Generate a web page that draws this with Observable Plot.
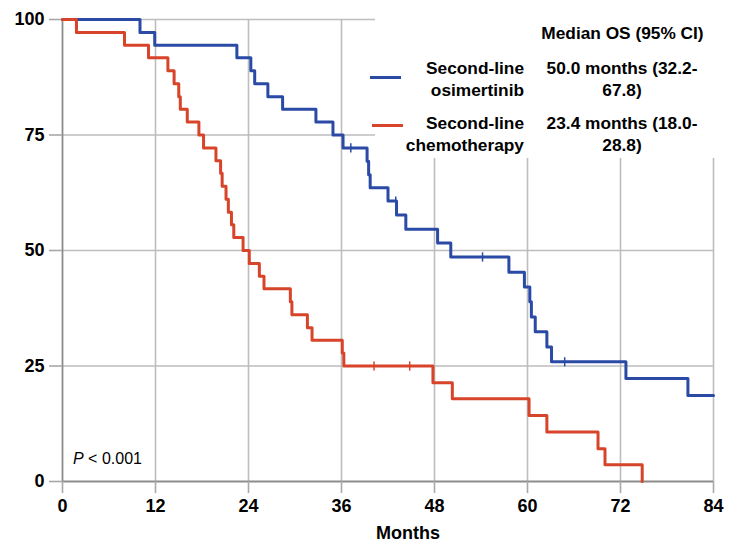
<!DOCTYPE html>
<html>
<head>
<meta charset="utf-8">
<script src="https://cdn.jsdelivr.net/npm/d3@7"></script>
<script src="https://cdn.jsdelivr.net/npm/@observablehq/plot@0.6"></script>
<style>
  html, body { margin: 0; padding: 0; background: #fff; }
  #wrap { position: relative; width: 739px; height: 546px; font-family: "Liberation Sans", Arial, sans-serif; color: #000; }
  #wrap svg { display: block; }
  .abs { position: absolute; white-space: nowrap; }
  #legendBox { position: absolute; left: 375px; top: 0; width: 364px; height: 158px; background: #fff; }
  .lg { position: absolute; font-weight: bold; font-size: 17.3px; line-height: 22px; white-space: nowrap; }
  .swatch { position: absolute; height: 3px; width: 31px; }
</style>
</head>
<body>
<div id="wrap"></div>
<script>
// ---- data ----
const xTicks = [0, 12, 24, 36, 48, 60, 72, 84];
const yTicks = [0, 25, 50, 75, 100];

const osiTimes = [0, 10.0, 11.9, 22.5, 24.3, 24.8, 26.5, 28.4, 32.7, 34.9, 36.2, 39.3, 39.5, 39.7, 42.0, 43.1, 44.3, 48.4, 50.1, 57.6, 59.6, 60.3, 60.5, 61.0, 62.5, 63.1, 72.7, 80.7, 84.0];
const osiSurv  = [100, 97.2, 94.4, 91.7, 88.9, 86.1, 83.3, 80.6, 77.8, 75.0, 72.2, 69.3, 66.4, 63.6, 60.7, 57.7, 54.6, 51.6, 48.6, 45.3, 42.1, 38.9, 35.6, 32.4, 29.1, 25.9, 22.3, 18.6, 18.6];
const osiCensor = [37.2, 43.0, 54.2, 64.8];

const chemoTimes = [0, 1.8, 8.0, 11.1, 13.6, 14.4, 15.0, 15.2, 16.1, 17.6, 18.2, 19.8, 20.4, 20.6, 21.1, 21.4, 21.8, 22.1, 23.3, 24.1, 25.4, 26.0, 29.4, 29.6, 31.6, 32.2, 36.1, 36.3, 47.8, 50.3, 60.2, 62.5, 69.1, 70.0, 74.8];
const chemoSurv  = [100, 97.2, 94.4, 91.7, 88.9, 86.1, 83.3, 80.6, 77.8, 75.0, 72.2, 69.4, 66.7, 63.9, 61.1, 58.3, 55.6, 52.8, 50.0, 47.2, 44.4, 41.7, 38.9, 36.1, 33.3, 30.6, 27.8, 25.0, 21.4, 17.9, 14.3, 10.7, 7.1, 3.6, 0];
const chemoCensor = [40.2, 44.8];

const seriesNames = ["Second-line osimertinib", "Second-line chemotherapy"];
const colors = ["#2a4aa6", "#d8442a"];

// ---- build tables ----
const osi = osiTimes.map((t, i) => ({t, s: osiSurv[i]}));
const chemo = chemoTimes.map((t, i) => ({t, s: chemoSurv[i]}));
function survAt(times, surv, t) {
  let v = surv[0];
  for (let i = 0; i < times.length; i++) if (times[i] <= t) v = surv[i];
  return v;
}
const osiC = osiCensor.map(t => ({t, s: survAt(osiTimes, osiSurv, t)}));
const chemoC = chemoCensor.map(t => ({t, s: survAt(chemoTimes, chemoSurv, t)}));

const chart = Plot.plot({
  width: 739,
  height: 546,
  marginLeft: 62,
  marginRight: 26,
  marginTop: 19,
  marginBottom: 65,
  style: {fontFamily: "'Liberation Sans', Arial, sans-serif", color: "#000", background: "#fff"},
  x: {domain: [0, 84], ticks: xTicks, label: null},
  y: {domain: [0, 100], ticks: yTicks, label: null},
  marks: [
    Plot.gridX(xTicks.slice(1), {stroke: "#bdbdbd", strokeOpacity: 1, strokeWidth: 1.6}),
    Plot.gridY(yTicks.slice(1), {stroke: "#bdbdbd", strokeOpacity: 1, strokeWidth: 1.6}),
    Plot.ruleX([0], {stroke: "#8c8c8c", strokeWidth: 1.8}),
    Plot.ruleY([0], {stroke: "#8c8c8c", strokeWidth: 1.8}),
    Plot.axisX(xTicks, {tickSize: 12, tickPadding: 6, stroke: "#a8a8a8", strokeWidth: 1.6, fontSize: 18, fontWeight: "bold", fill: "#000", label: null}),
    Plot.axisY(yTicks, {tickSize: 13, tickPadding: 5, stroke: "#a8a8a8", strokeWidth: 1.6, fontSize: 18, fontWeight: "bold", fill: "#000", label: null}),
    Plot.line(osi, {x: "t", y: "s", curve: "step-after", stroke: colors[0], strokeWidth: 3}),
    Plot.link(osiC, {x1: "t", x2: "t", y1: d => d.s - 1, y2: d => d.s + 1, stroke: colors[0], strokeWidth: 1.5}),
    Plot.line(chemo, {x: "t", y: "s", curve: "step-after", stroke: colors[1], strokeWidth: 3}),
    Plot.link(chemoC, {x1: "t", x2: "t", y1: d => d.s - 1, y2: d => d.s + 1, stroke: colors[1], strokeWidth: 1.5})
  ]
});

const wrap = document.getElementById("wrap");
wrap.appendChild(chart);

// legend (white box covering gridlines, as in the reference)
const box = document.createElement("div");
box.id = "legendBox";
box.innerHTML = `
  <div class="lg" style="left:157px; top:22px; width:181px; text-align:center;">Median OS (95% CI)</div>
  <div class="swatch" style="left:-5px; top:76px; background:${colors[0]}"></div>
  <div class="lg" style="left:10px; top:57px; width:139px; text-align:right;">Second-line<br>osimertinib</div>
  <div class="lg" style="left:137px; top:57px; width:220px; text-align:center;">50.0 months (32.2-<br>67.8)</div>
  <div class="swatch" style="left:-3px; top:124px; background:${colors[1]}"></div>
  <div class="lg" style="left:10px; top:112px; width:139px; text-align:right;">Second-line<br>chemotherapy</div>
  <div class="lg" style="left:137px; top:112px; width:220px; text-align:center;">23.4 months (18.0-<br>28.8)</div>
`;
wrap.appendChild(box);

const xl = document.createElement("div");
xl.className = "abs";
xl.style.cssText = "left:364px; top:523px; width:88px; text-align:center; font-weight:bold; font-size:18px;";
xl.textContent = "Months";
wrap.appendChild(xl);

const pv = document.createElement("div");
pv.className = "abs";
pv.style.cssText = "left:73px; top:450px; font-size:16px;";
pv.innerHTML = "<i>P</i> &lt; 0.001";
wrap.appendChild(pv);
</script>
</body>
</html>
